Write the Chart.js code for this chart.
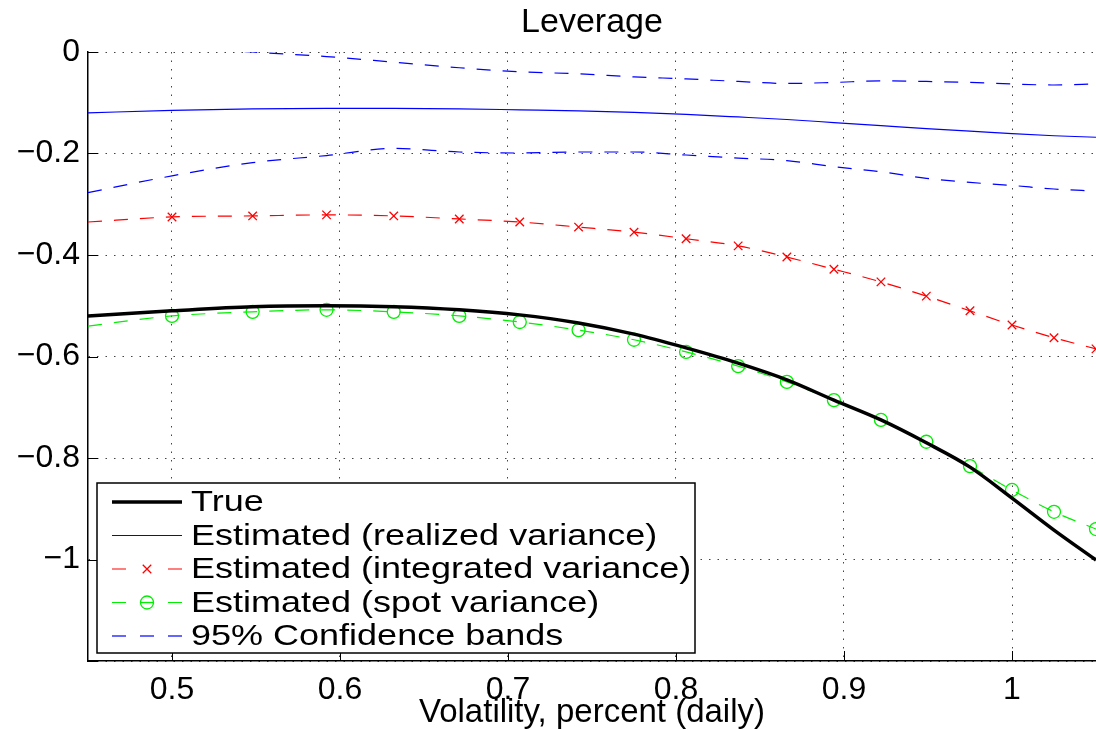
<!DOCTYPE html>
<html>
<head>
<meta charset="utf-8">
<script src="https://cdn.jsdelivr.net/npm/chart.js@4"></script>
<style>
  body { margin: 0; background: #fff; }
  #wrap { width: 1096px; height: 729px; position: relative; }
</style>
</head>
<body>
<div id="wrap"><canvas id="myChart"></canvas></div>
<script>
// volatility grid (x) and the estimated leverage curves
const xValues = [0.45, 0.5, 0.548, 0.592, 0.632, 0.671, 0.707, 0.742, 0.775, 0.806, 0.837, 0.866, 0.894, 0.922, 0.949, 0.975, 1.0, 1.025, 1.05];
const trueLeverage = [-0.52, -0.51, -0.502, -0.500, -0.502, -0.508, -0.518, -0.534, -0.556, -0.583, -0.613, -0.646, -0.686, -0.725, -0.770, -0.818, -0.879, -0.942, -1.001];
const realized = [-0.120, -0.115, -0.112, -0.111, -0.111, -0.112, -0.114, -0.116, -0.119, -0.123, -0.128, -0.133, -0.139, -0.145, -0.151, -0.156, -0.161, -0.165, -0.168];
const integrated = [-0.335, -0.325, -0.323, -0.321, -0.323, -0.329, -0.335, -0.345, -0.355, -0.368, -0.382, -0.404, -0.428, -0.453, -0.481, -0.510, -0.538, -0.563, -0.585];
const spot = [-0.54, -0.52, -0.512, -0.508, -0.512, -0.52, -0.532, -0.548, -0.567, -0.591, -0.619, -0.65, -0.686, -0.725, -0.768, -0.816, -0.863, -0.906, -0.94];
const bandUpper = [0.03, 0.012, 0.0, -0.009, -0.020, -0.031, -0.039, -0.043, -0.049, -0.053, -0.058, -0.062, -0.060, -0.057, -0.058, -0.060, -0.063, -0.065, -0.063];
const bandLower = [-0.277, -0.244, -0.218, -0.204, -0.190, -0.197, -0.199, -0.197, -0.197, -0.203, -0.209, -0.214, -0.226, -0.236, -0.249, -0.257, -0.263, -0.270, -0.274];

const xTicks = [0.5, 0.6, 0.7, 0.8, 0.9, 1.0];
const yTicks = [0, -0.2, -0.4, -0.6, -0.8, -1.0, -1.2];

const FONT = "'Liberation Sans', Arial, Helvetica, sans-serif";
const pts = arr => xValues.map((x, i) => ({ x: x, y: arr[i] }));
const markerRadius = r => xValues.map((x, i) => i === 0 ? 0 : r);

// MATLAB-style legend box inside the axes, plus inward tick marks
const matlabExtras = {
  id: 'matlabExtras',
  afterDraw(chart) {
    const ctx = chart.ctx;
    const area = chart.chartArea;
    const xs = chart.scales.x, ys = chart.scales.y;
    ctx.save();
    ctx.strokeStyle = '#000';
    ctx.lineWidth = 1;
    xTicks.forEach(v => {
      const px = Math.round(xs.getPixelForValue(v)) + 0.5;
      ctx.beginPath(); ctx.moveTo(px, area.bottom); ctx.lineTo(px, area.bottom - 10); ctx.stroke();
    });
    yTicks.forEach(v => {
      const py = Math.round(ys.getPixelForValue(v)) + 0.5;
      ctx.beginPath(); ctx.moveTo(area.left, py); ctx.lineTo(area.left + 10, py); ctx.stroke();
    });

    // legend
    const ds = chart.data.datasets;
    const items = [
      { label: 'True', d: ds[0], dash: [] },
      { label: 'Estimated (realized variance)', d: ds[1], dash: [] },
      { label: 'Estimated (integrated variance)', d: ds[2], marker: true },
      { label: 'Estimated (spot variance)', d: ds[3], marker: true },
      { label: '95% Confidence bands', d: ds[4], dash: [14, 14] }
    ];
    const bx = 97, by = 483, bw = 598, bh = 170;
    ctx.fillStyle = '#fff';
    ctx.fillRect(bx, by, bw, bh);
    ctx.lineWidth = 1.5;
    ctx.strokeStyle = '#000';
    ctx.strokeRect(bx, by, bw, bh);
    ctx.font = '30px ' + FONT;
    ctx.textBaseline = 'middle';
    items.forEach((it, i) => {
      const cy = by + 19 + i * 33.5;
      const d = it.d;
      ctx.strokeStyle = d.borderColor;
      ctx.lineWidth = d.borderWidth;
      if (it.marker) {
        ctx.setLineDash([]);
        ctx.beginPath();
        ctx.moveTo(112, cy); ctx.lineTo(126, cy);
        ctx.moveTo(168, cy); ctx.lineTo(182, cy);
        ctx.stroke();
        ctx.fillStyle = 'rgba(0,0,0,0)';
        ctx.lineWidth = d.pointBorderWidth;
        Chart.helpers.drawPoint(ctx, {
          pointStyle: d.pointStyle, radius: d.pointRadius[1], borderWidth: d.pointBorderWidth, rotation: 0
        }, 147, cy);
        if (d.pointStyle === 'circle') {
          ctx.beginPath(); ctx.moveTo(141, cy); ctx.lineTo(153, cy); ctx.stroke();
        }
      } else {
        ctx.setLineDash(it.dash);
        ctx.beginPath(); ctx.moveTo(112, cy); ctx.lineTo(182, cy); ctx.stroke();
        ctx.setLineDash([]);
      }
      ctx.fillStyle = '#000';
      ctx.save();
      ctx.translate(191, cy);
      ctx.scale(1.2, 1);
      ctx.fillText(it.label, 0, 1);
      ctx.restore();
    });
    ctx.restore();
  }
};

const gridOpts = { color: '#444', lineWidth: 1, drawTicks: false };
const borderOpts = { display: true, color: '#000', width: 1.5, dash: [1.5, 7] };

new Chart('myChart', {
  type: 'line',
  data: {
    datasets: [
      {
        label: 'True', data: pts(trueLeverage),
        borderColor: '#000000', borderWidth: 3.5, pointRadius: 0,
        cubicInterpolationMode: 'monotone'
      },
      {
        label: 'Estimated (realized variance)', data: pts(realized),
        borderColor: '#0000ff', borderWidth: 1.2, pointRadius: 0,
        cubicInterpolationMode: 'monotone'
      },
      {
        label: 'Estimated (integrated variance)', data: pts(integrated),
        borderColor: '#ff0000', borderWidth: 1.2, borderDash: [14, 12],
        pointStyle: 'crossRot', pointRadius: markerRadius(6), pointBorderWidth: 1.3,
        pointBorderColor: '#ff0000', pointBackgroundColor: 'rgba(0,0,0,0)',
        cubicInterpolationMode: 'monotone'
      },
      {
        label: 'Estimated (spot variance)', data: pts(spot),
        borderColor: '#00ee00', borderWidth: 1.2, borderDash: [14, 12],
        pointStyle: 'circle', pointRadius: markerRadius(6.5), pointBorderWidth: 1.3,
        pointBorderColor: '#00ee00', pointBackgroundColor: 'rgba(0,0,0,0)',
        cubicInterpolationMode: 'monotone'
      },
      {
        label: '95% Confidence bands', data: pts(bandUpper),
        borderColor: '#0000ff', borderWidth: 1.2, borderDash: [14, 12], pointRadius: 0,
        cubicInterpolationMode: 'monotone'
      },
      {
        label: '95% Confidence bands (lower)', data: pts(bandLower),
        borderColor: '#0000ff', borderWidth: 1.2, borderDash: [14, 12], pointRadius: 0,
        cubicInterpolationMode: 'monotone'
      }
    ]
  },
  options: {
    responsive: true,
    maintainAspectRatio: false,
    animation: false,
    layout: { autoPadding: false, padding: { top: 0, right: 0, bottom: 0, left: 0 } },
    plugins: {
      legend: { display: false },
      tooltip: { enabled: false },
      title: {
        display: true,
        fullSize: false,
        text: 'Leverage',
        color: '#000',
        font: { family: FONT, size: 34, weight: 'normal' },
        padding: { top: 2, bottom: 9.2 }
      }
    },
    scales: {
      x: {
        type: 'linear',
        min: 0.45,
        max: 1.05,
        afterBuildTicks: s => { s.ticks = xTicks.map(v => ({ value: v })); },
        afterFit: s => { s.height = 68; },
        ticks: {
          color: '#000', padding: 10,
          font: { family: FONT, size: 32 },
          callback: v => String(v)
        },
        grid: gridOpts,
        border: borderOpts,
        title: {
          display: true, text: 'Volatility, percent (daily)', color: '#000',
          font: { family: FONT, size: 33 }, padding: { top: 0, bottom: -4 }
        }
      },
      y: {
        type: 'linear',
        min: -1.2,
        max: 0,
        afterBuildTicks: s => { s.ticks = yTicks.map(v => ({ value: v })); },
        afterFit: s => { s.width = 88; },
        ticks: {
          color: '#000', padding: 8,
          font: { family: FONT, size: 32 },
          callback: v => {
            if (Math.abs(v + 1.2) < 1e-9) return '';
            if (v === 0) return '0';
            return '\u2212' + String(Math.abs(v));
          }
        },
        grid: gridOpts,
        border: borderOpts
      }
    }
  },
  plugins: [matlabExtras]
});
</script>
</body>
</html>
